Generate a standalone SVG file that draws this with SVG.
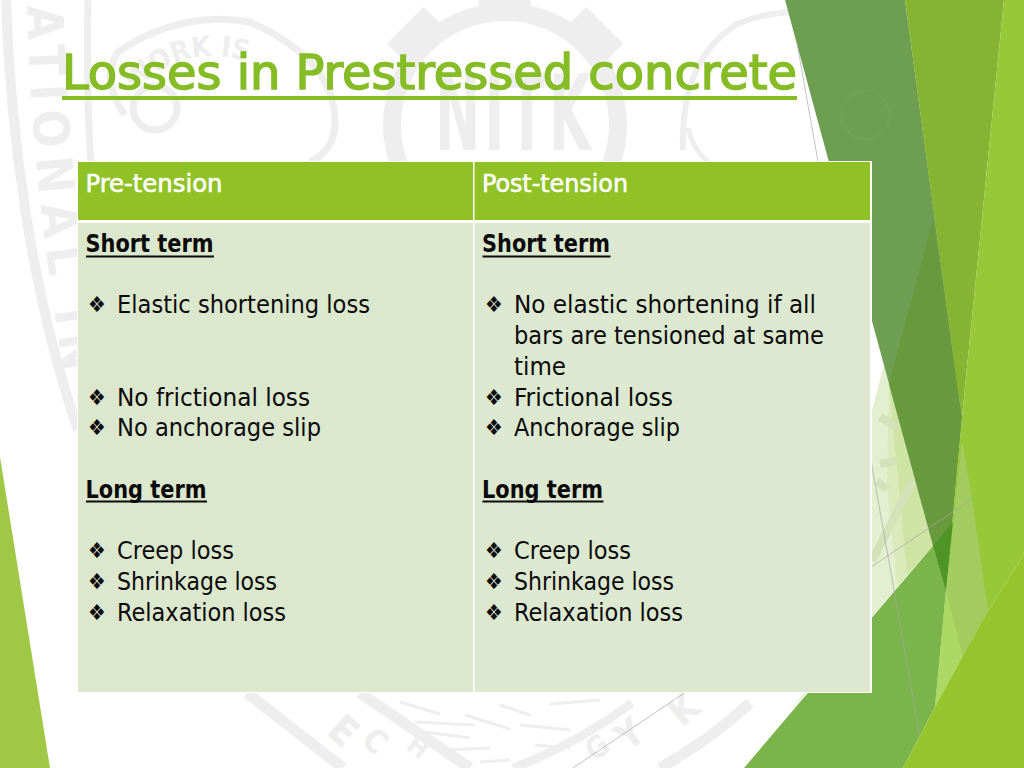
<svg xmlns="http://www.w3.org/2000/svg" width="1024" height="768" viewBox="0 0 1024 768">
<style>
text{font-family:"DejaVu Sans","Liberation Sans",sans-serif;font-stretch:condensed}
.wm{fill:#eeeeee;font-weight:700}
.wr{fill:none;stroke:#eeeeee}
.t{font-size:24px;fill:#0a0a0a}
.b{font-weight:700}
.h{fill:#ffffff;font-size:24px;stroke:#ffffff;stroke-width:.5px}
.bu{font-size:22px;fill:#0a0a0a}
.u{fill:#0a0a0a}
.pw{fill:none;stroke:#d3e2b8}
.tooth{fill:#eeeeee}
</style>
<defs>
<path id="arcW" d="M134 92 Q200 24 296 84"/>
<path id="arcA" d="M27 6 C29 100 38 210 62 360"/>
<rect id="tooth" x="-26" y="-141" width="52" height="26"/>
</defs>
<rect width="1024" height="768" fill="#ffffff"/>
<g id="watermark">
<path class="wr" stroke-width="10" d="M6 0 C10 130 30 290 78 430"/>
<path class="wr" stroke-width="7" d="M88 0 Q86 90 91 165"/>
<path class="wr" stroke-width="7" d="M125 115 Q100 80 118 52 Q180 10 250 22 Q335 60 335 122 Q335 150 310 162"/>
<circle class="wr" stroke-width="7" cx="155" cy="108" r="22"/>
<text class="wm" font-size="28"><textPath href="#arcW">WORK IS</textPath></text>
<text class="wm" font-size="50" letter-spacing="9"><textPath href="#arcA">ATIONAL IN</textPath></text>
<circle class="wr" cx="505" cy="125" r="113" stroke-width="18"/>
<g class="tooth">
<use href="#tooth" transform="translate(505,125) rotate(-45)"/>
<use href="#tooth" transform="translate(505,125) rotate(45)"/>
<use href="#tooth" transform="translate(505,125)"/>
</g>
<text class="wm" font-size="60" text-anchor="middle" letter-spacing="4" transform="translate(515,150) scale(1,1.75)">NITK</text>
<path class="wr" stroke-width="6" d="M683 150 Q680 60 737 24 Q760 14 790 12"/>
<path class="wr" stroke-width="5" d="M688 128 Q692 148 708 162"/>
<path class="wr" stroke-width="11" d="M247 693 L343 768"/>
<path class="wr" stroke-width="11" d="M360 693 L470 768"/>
<path class="wr" stroke-width="11" d="M750 703 Q710 740 660 768"/>
<path class="wr" stroke-width="9" d="M632 703 Q575 745 513 768"/>
<g class="wr" stroke-width="3"><path d="M400 702 L440 714M415 722L475 725M425 732L470 738M465 715L510 729M500 705L530 715M550 704 L600 700M520 725L570 730M445 750L490 748M535 745L570 748M480 762L510 760"/></g>
<text class="wm" font-size="40" transform="translate(325,733) rotate(42)">E</text>
<text class="wm" font-size="32" transform="translate(360,742) rotate(42)">C</text>
<text class="wm" font-size="26" transform="translate(405,748) rotate(38)">H</text>
<text class="wm" font-size="30" transform="translate(594,762) rotate(-35)">G</text>
<text class="wm" font-size="38" transform="translate(628,752) rotate(-38)">Y</text>
<text class="wm" font-size="38" transform="translate(682,728) rotate(-40)">K</text>
</g>
<g id="decor">
<polygon points="0,457 50,768 0,768" fill="#a0c846"/>
<polygon points="884,365 889,384 933,546 871,618 790,712 803,694 860,500 871,414" fill="#e3efcf"/>
<polygon points="889,384 907,575 897,586 887,484" fill="#dbeabb"/>
<polygon points="889,384 933,546 907,575" fill="#cfe4a3"/>
<path class="pw" stroke-width="8" d="M872 561 L913 481M880 417L897 427M880 464L897 461M877 481L887 489"/>
<polygon points="785,0 905,0 962,417 946,591 933,546" fill="#6e9e52"/>
<polygon points="933,220 962,417 946,591 889,384" fill="#68993d"/>
<circle cx="865" cy="115" r="24" fill="none" stroke="#71a154" stroke-width="3"/>
<polygon points="905,0 1004,0 962,417 957,384" fill="#85b432"/>
<polygon points="1004,0 1024,0 1024,554 988,611 963,656 935,707 946,591 962,417" fill="#97c83a"/>
<polygon points="744,768 933,546 946,591 935,707 903,768" fill="#7ab44a"/>
<polygon points="953,522 933,546 946,591" fill="#4f9526"/>
<polygon points="962,441 972,499 988,611 963,656 946,591" fill="#a2cc60"/>
<polygon points="946,591 963,656 935,707" fill="#acd966"/>
<polygon points="903,768 935,707 963,656 988,611 1024,554 1024,768" fill="#94c52c"/>
<g fill="none" stroke="#a8a8a8" stroke-width="1" opacity=".7">
<path d="M797 43 L920 737"/>
<path d="M573 768 L972 499"/>
</g>
</g>
<g id="title">
<text x="62" y="89" font-size="48" fill="#86bc25" stroke="#86bc25" stroke-width="1.4" textLength="735" lengthAdjust="spacingAndGlyphs">Losses in Prestressed concrete</text>
<rect x="62" y="96" width="735" height="4" fill="#86bc25"/>
</g>
<g id="table">
<rect x="77" y="161" width="795" height="532" fill="#ffffff"/>
<rect x="78" y="162" width="395" height="58" fill="#90c226"/>
<rect x="474.5" y="162" width="395.5" height="58" fill="#90c226"/>
<rect x="78" y="223" width="395" height="469" fill="#dbe8ce"/>
<rect x="474.5" y="223" width="395.5" height="469" fill="#dce9d0"/>
</g>
<g id="col-pre">
<text class="h" x="85.5" y="191.5" textLength="137" lengthAdjust="spacingAndGlyphs">Pre-tension</text>
<text class="t b" x="85.5" y="252" textLength="128" lengthAdjust="spacingAndGlyphs">Short term</text><rect class="u" x="86" y="255.5" width="128" height="2"/>
<text class="bu" x="88" y="312">❖</text><text class="t" x="117" y="313" textLength="253" lengthAdjust="spacingAndGlyphs">Elastic shortening loss</text>
<text class="bu" x="88" y="405">❖</text><text class="t" x="117" y="406" textLength="193" lengthAdjust="spacingAndGlyphs">No frictional loss</text>
<text class="bu" x="88" y="435">❖</text><text class="t" x="117" y="436" textLength="204" lengthAdjust="spacingAndGlyphs">No anchorage slip</text>
<text class="t b" x="85.5" y="498" textLength="121" lengthAdjust="spacingAndGlyphs">Long term</text><rect class="u" x="86" y="500.5" width="121" height="2"/>
<text class="bu" x="88" y="558">❖</text><text class="t" x="117" y="559" textLength="117" lengthAdjust="spacingAndGlyphs">Creep loss</text>
<text class="bu" x="88" y="589">❖</text><text class="t" x="117" y="590" textLength="160" lengthAdjust="spacingAndGlyphs">Shrinkage loss</text>
<text class="bu" x="88" y="620">❖</text><text class="t" x="117" y="621" textLength="169" lengthAdjust="spacingAndGlyphs">Relaxation loss</text>
</g>
<g id="col-post">
<text class="h" x="482" y="191.5" textLength="146" lengthAdjust="spacingAndGlyphs">Post-tension</text>
<text class="t b" x="482" y="252" textLength="128" lengthAdjust="spacingAndGlyphs">Short term</text><rect class="u" x="482.5" y="255.5" width="128" height="2"/>
<text class="bu" x="485" y="312">❖</text><text class="t" x="514" y="313" textLength="302" lengthAdjust="spacingAndGlyphs">No elastic shortening if all</text>
<text class="t" x="514" y="344" textLength="310" lengthAdjust="spacingAndGlyphs">bars are tensioned at same</text>
<text class="t" x="514" y="375" textLength="52" lengthAdjust="spacingAndGlyphs">time</text>
<text class="bu" x="485" y="405">❖</text><text class="t" x="514" y="406" textLength="159" lengthAdjust="spacingAndGlyphs">Frictional loss</text>
<text class="bu" x="485" y="435">❖</text><text class="t" x="514" y="436" textLength="166" lengthAdjust="spacingAndGlyphs">Anchorage slip</text>
<text class="t b" x="482" y="498" textLength="121" lengthAdjust="spacingAndGlyphs">Long term</text><rect class="u" x="482.5" y="500.5" width="121" height="2"/>
<text class="bu" x="485" y="558">❖</text><text class="t" x="514" y="559" textLength="117" lengthAdjust="spacingAndGlyphs">Creep loss</text>
<text class="bu" x="485" y="589">❖</text><text class="t" x="514" y="590" textLength="160" lengthAdjust="spacingAndGlyphs">Shrinkage loss</text>
<text class="bu" x="485" y="620">❖</text><text class="t" x="514" y="621" textLength="169" lengthAdjust="spacingAndGlyphs">Relaxation loss</text>
</g>
</svg>
